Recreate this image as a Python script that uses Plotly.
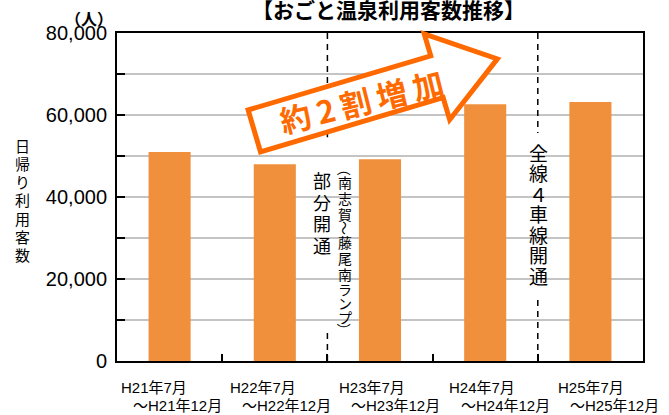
import math
import plotly.graph_objects as go

# ---- data ----
periods_line1 = ["H21年7月", "H22年7月", "H23年7月", "H24年7月", "H25年7月"]
periods_line2 = ["～H21年12月", "～H22年12月", "～H23年12月", "～H24年12月", "～H25年12月"]
visitors = [51000, 48000, 49200, 62600, 63200]
y_tickvals = [0, 10000, 20000, 30000, 40000, 50000, 60000, 70000, 80000]
y_ticktext = ["0", "", "20,000", "", "40,000", "", "60,000", "", "80,000"]

# ---- layout geometry (pixels) ----
W, H = 669, 415
ML, MR, MT, MB = 117, 26, 33, 54
PW, PH = W - ML - MR, H - MT - MB

def xp(px):
    return (px - ML) / PW

def yp(py):
    return (H - MB - py) / PH

JP = "Noto Sans CJK JP"
LAT = "Liberation Sans, Arial, Noto Sans CJK JP"
BAR = "#F0903C"
ORANGE = "#FF6A00"

xs = list(range(len(visitors)))
fig = go.Figure(go.Bar(x=xs, y=visitors, width=0.4, marker=dict(color=BAR, line=dict(width=0)),
                       hoverinfo="skip"))

fig.update_layout(
    width=W, height=H, margin=dict(l=ML, r=MR, t=MT, b=MB),
    paper_bgcolor="white", plot_bgcolor="white", showlegend=False,
    xaxis=dict(range=[-0.5, len(xs) - 0.5], tickvals=[i + 0.5 for i in xs[:-1]],
               ticks="inside", ticklen=7, tickwidth=1.5, tickcolor="black",
               showticklabels=False, showgrid=False, zeroline=False,
               showline=True, linecolor="black", linewidth=2, mirror=True),
    yaxis=dict(range=[0, 80000], tickvals=y_tickvals, ticktext=y_ticktext,
               ticks="inside", ticklen=8, tickwidth=1.5, tickcolor="black",
               ticklabelstandoff=4,
               tickfont=dict(family=LAT, size=20, color="black"),
               showgrid=True, gridcolor="#C4C4C4", gridwidth=1.5, zeroline=False,
               showline=True, linecolor="black", linewidth=2, mirror=True),
)

# dashed separators (x in paper from axis range)
def xcat_paper(v):
    return (v + 0.5) / len(xs)

for xv, segs in [(1.5, [(1.0, 54600 / 80000), (6800 / 80000, -0.012)]),
                 (3.5, [(1.0, 55600 / 80000), (14900 / 80000, 0.0)])]:
    for y0, y1 in segs:
        fig.add_shape(type="line", xref="paper", yref="paper",
                      x0=xcat_paper(xv), x1=xcat_paper(xv), y0=y0, y1=y1,
                      line=dict(color="black", width=1.5, dash="6px,5px"), layer="above")

# arrow (outline, white fill)
ang = math.radians(16.5)
u = (math.cos(ang), -math.sin(ang))
n = (math.sin(ang), math.cos(ang))
o = (245.0, 108.3)
local = [(2.5, 2.5), (193, 2.5), (193, -20.5), (256, 24.3), (193, 69.1), (193, 46.1), (2.5, 46.1)]
pts = [(o[0] + s * u[0] + t * n[0], o[1] + s * u[1] + t * n[1]) for s, t in local]
path = "M " + " L ".join(f"{xp(px):.5f},{yp(py):.5f}" for px, py in pts) + " Z"
fig.add_shape(type="path", xref="paper", yref="paper", path=path,
              line=dict(color=ORANGE, width=5), fillcolor="white", layer="above")

fig.add_annotation(x=xp(361), y=yp(101), xref="paper", yref="paper", showarrow=False,
                   text="<b>約\u20092\u2009割\u2009増\u2009加</b>", textangle=-14,
                   font=dict(family=JP, size=31, color=ORANGE),
                   xanchor="center", yanchor="middle")

# title and unit
fig.add_annotation(x=xp(388), y=yp(9), xref="paper", yref="paper", showarrow=False,
                   text="<b>【おごと温泉利用客数推移】</b>",
                   font=dict(family=JP, size=21, color="black"), xanchor="center", yanchor="middle")
fig.add_annotation(x=xp(89), y=yp(18), xref="paper", yref="paper", showarrow=False,
                   text="<b>（人）</b>",
                   font=dict(family=JP, size=16, color="black"), xanchor="center", yanchor="middle")

# vertical texts (one glyph per annotation)
def vtext(chars, xpx, ycs, size, rotate=()):
    for ch, yc in zip(chars, ycs):
        fig.add_annotation(x=xp(xpx), y=yp(yc), xref="paper", yref="paper", showarrow=False,
                           text=ch, textangle=90 if ch in rotate else 0,
                           font=dict(family=JP, size=size, color="black"),
                           xanchor="center", yanchor="middle")

vtext("日帰り利用客数", 22, [145 + 18.3 * i for i in range(7)], 15)
vtext("部分開通", 322, [180, 201.5, 223, 244.5], 18)
vtext("（南志賀～藤尾南ランプ）", 345,
      [169, 182, 198, 214, 228, 242, 258, 274, 289, 303, 317, 330], 14,
      rotate=("（", "）", "～"))
vtext("全線４車線開通", 538, [152 + 20.5 * i for i in range(7)], 19)

# category labels
for i, (l1, l2) in enumerate(zip(periods_line1, periods_line2)):
    fig.add_annotation(x=xp(119 + 109.2 * i), y=yp(387), xref="paper", yref="paper",
                       showarrow=False, text=l1, xanchor="left", yanchor="middle",
                       font=dict(family=LAT, size=15, color="black"))
    fig.add_annotation(x=xp(131 + 109.2 * i), y=yp(405), xref="paper", yref="paper",
                       showarrow=False, text=l2, xanchor="left", yanchor="middle",
                       font=dict(family=LAT, size=15, color="black"))

fig.write_html("out.html", config={"displayModeBar": False},
               post_script="document.body.style.margin='0';")
